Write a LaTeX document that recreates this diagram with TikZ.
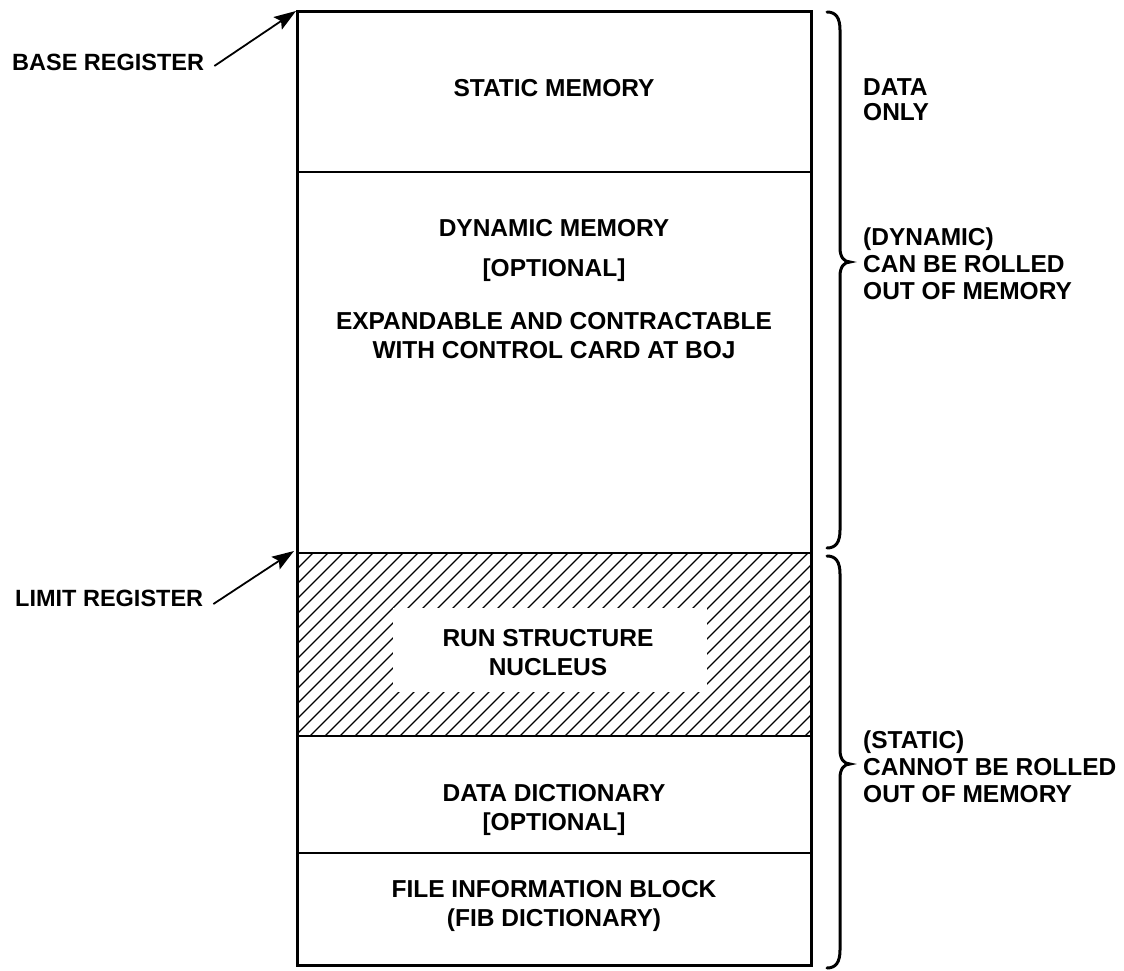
\documentclass[tikz,border=0pt]{standalone}
\usepackage{fontspec}
\setmainfont{Liberation Sans}
\usetikzlibrary{arrows.meta}
\begin{document}
\begin{tikzpicture}[x=1pt,y=-1pt,
  lbl/.style={inner sep=0pt,font=\bfseries\fontsize{24.5}{29}\selectfont,align=center},
  reg/.style={inner sep=0pt,font=\bfseries\fontsize{23.5}{28}\selectfont,anchor=west},
  side/.style={inner sep=0pt,font=\bfseries\fontsize{24.5}{27}\selectfont,align=left,anchor=west},
  frame/.style={line width=3pt},
  divider/.style={line width=2pt},
  hatch/.style={line width=1.3pt},
  curly/.style={line width=3pt,line cap=round},
  pointer/.style={line width=1.8pt,-{Stealth[length=22pt,width=15pt,inset=4pt]}}]
\useasboundingbox (0,0) rectangle (1124,971);

% hatched band of the run structure nucleus
\begin{scope}
  \clip (297,553) rectangle (811,736);
  \foreach \a in {100,115,...,830}
    \draw[hatch] (\a,736) -- ++(183,-183);
\end{scope}
\fill[white] (393,608) rectangle (707,692);

% region dividers and outer frame
\draw[divider] (297,172) -- (811,172);
\draw[divider] (297,553) -- (811,553);
\draw[divider] (297,736) -- (811,736);
\draw[divider] (297,853) -- (811,853);
\draw[frame] (297,12) rectangle (811,965);

% region texts
\node[lbl] (static) at (554,88) {STATIC MEMORY};
\node[lbl] (dyn) at (554,228) {DYNAMIC MEMORY};
\node[lbl] (dynopt) at (554,270) {[OPTIONAL]};
\node[lbl] (expand) at (554,336) {EXPANDABLE AND CONTRACTABLE\\WITH CONTROL CARD AT BOJ};
\node[lbl] (nucleus) at (548,653) {RUN STRUCTURE\\NUCLEUS};
\node[lbl] (dict) at (554,810) {DATA DICTIONARY\\\relax[OPTIONAL]};
\node[lbl] (fib) at (554,906) {FILE INFORMATION BLOCK\\(FIB DICTIONARY)};

% register labels and pointers
\node[reg] (base) at (12,62) {BASE REGISTER};
\node[reg] (limit) at (15,598) {LIMIT REGISTER};
\coordinate (basetip) at (296,11);
\coordinate (limittip) at (294,551);
\draw[pointer] ([xshift=10pt,yshift=-4pt]base.east) -- (basetip);
\draw[pointer] ([xshift=10pt,yshift=-6pt]limit.east) -- (limittip);

% braces
\def\ut{262}
\draw[curly] (827,12) .. controls (836,12) and (840,18) .. (840,30)
  -- (840,\ut-14) .. controls (840,\ut-5) and (844,\ut) .. (850,\ut)
  .. controls (844,\ut) and (840,\ut+5) .. (840,\ut+14)
  -- (840,530) .. controls (840,542) and (836,548) .. (827,548);
\def\lt{764}
\draw[curly] (827,556) .. controls (836,556) and (840,562) .. (840,574)
  -- (840,\lt-14) .. controls (840,\lt-5) and (844,\lt) .. (850,\lt)
  .. controls (844,\lt) and (840,\lt+5) .. (840,\lt+14)
  -- (840,950) .. controls (840,962) and (836,968) .. (827,968);

% side notes
\node[side,font=\bfseries\fontsize{24.5}{25}\selectfont] (dataonly) at (863,100) {DATA\\ONLY};
\node[side] (dynnote) at (863,264) {(DYNAMIC)\\CAN BE ROLLED\\OUT OF MEMORY};
\node[side] (statnote) at (863,767) {(STATIC)\\CANNOT BE ROLLED\\OUT OF MEMORY};
\end{tikzpicture}
\end{document}
